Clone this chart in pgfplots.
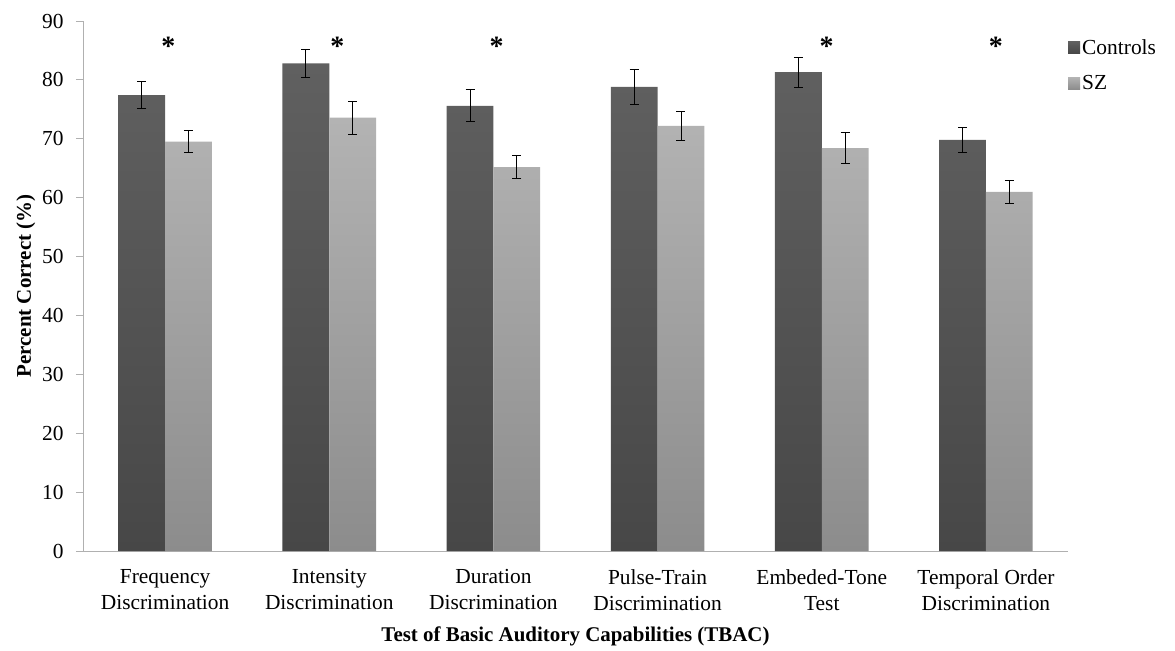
\documentclass[border=0pt]{standalone}
\usepackage{fontspec}
\setmainfont{Liberation Serif}
\usepackage{pgfplots}
\usepackage{pgfplotstable}
\pgfplotsset{compat=1.18}
\definecolor{ctop}{HTML}{606060}
\definecolor{cbot}{HTML}{474747}
\definecolor{stop}{HTML}{B3B3B3}
\definecolor{sbot}{HTML}{8C8C8C}
\definecolor{axgray}{HTML}{B0B0B0}

\pgfplotstableread{
x c ce s se
0 77.4 2.3 69.5 1.9
1 82.8 2.4 73.6 2.8
2 75.6 2.7 65.2 2.0
3 78.8 2.9 72.2 2.5
4 81.3 2.5 68.4 2.6
5 69.8 2.2 61.0 1.9
}\datatab

\pgfplotstableread{
x y
0.02 85.7
1.05 85.7
2.02 85.7
4.03 85.7
5.06 85.7
}\startab

\begin{document}
\begin{tikzpicture}
\begin{axis}[
  name=ax,
  scale only axis,
  width=985bp, height=530bp,
  xmin=-0.5, xmax=5.5,
  ymin=0, ymax=90,
  ytick={0,10,...,90},
  xtick={0,1,2,3,4,5},
  xticklabels={{Frequency\\Discrimination},{Intensity\\Discrimination},{Duration\\Discrimination},{Pulse-Train\\Discrimination},{Embeded-Tone\\Test},{Temporal Order\\Discrimination}},
  x tick label style={align=center, font=\fontsize{21.5}{26}\selectfont, yshift=-8bp},
  y tick label style={font=\fontsize{21.5}{25.7}\selectfont, xshift=-9bp},
  /pgf/number format/assume math mode=true,
  axis x line*=bottom, axis y line*=left,
  axis line style={draw=axgray, line width=0.9bp},
  x tick style={draw=none},
  y tick style={draw=axgray, line width=0.9bp},
  tick align=outside,
  major tick length=7bp,
  xlabel={\textbf{Test of Basic Auditory Capabilities (TBAC)}},
  ylabel={\textbf{Percent Correct (\%)}},
  xlabel style={font=\fontsize{21}{25}\selectfont, yshift=-9bp},
  ylabel style={font=\fontsize{21}{25}\selectfont},
  legend style={at={(1,1)}, anchor=north west, draw=none, fill=none,
    font=\fontsize{21.5}{25.7}\selectfont, inner sep=0pt, row sep=16bp,
    cells={anchor=west}, yshift=-16bp},
  legend image code/.code={\fill[#1] (0bp,-6bp) rectangle (12bp,6bp);},
  clip=false,
]
\addplot[ybar, bar width=0.285, bar shift=-0.1425, draw=none, top color=ctop, bottom color=cbot]
  table[x=x, y=c] {\datatab};
\addlegendentry{Controls}
\addplot[ybar, bar width=0.285, bar shift=0.1425, draw=none, top color=stop, bottom color=sbot]
  table[x=x, y=s] {\datatab};
\addlegendentry{SZ}
\addplot[draw=none, mark=none, forget plot,
  error bars/.cd, y dir=both, y explicit,
  error bar style={black, line width=0.9bp},
  error mark options={rotate=90, black, mark size=4.5bp, line width=0.9bp}]
  table[x expr=\thisrow{x}-0.1425, y=c, y error=ce] {\datatab};
\addplot[draw=none, mark=none, forget plot,
  error bars/.cd, y dir=both, y explicit,
  error bar style={black, line width=0.9bp},
  error mark options={rotate=90, black, mark size=4.5bp, line width=0.9bp}]
  table[x expr=\thisrow{x}+0.1425, y=s, y error=se] {\datatab};
\addplot[draw=none, mark=none, forget plot, nodes near coords={\textbf{*}},
  every node near coord/.append style={anchor=center, inner sep=0pt, font=\fontsize{28}{28}\selectfont}]
  table[x=x, y=y] {\startab};
\end{axis}
\pgfresetboundingbox
\path[use as bounding box] ([shift={(-83bp,-99bp)}]ax.south west) rectangle ([shift={(107bp,21bp)}]ax.north east);
\end{tikzpicture}
\end{document}
